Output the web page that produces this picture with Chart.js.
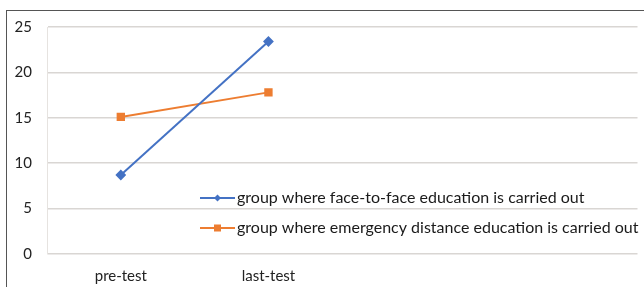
<!DOCTYPE html>
<html><head><meta charset="utf-8">
<script src="https://cdn.jsdelivr.net/npm/chart.js@4/dist/chart.umd.min.js"></script>
<style>html,body{margin:0;padding:0;background:#fff}#wrap{width:644px;height:287px;position:relative}</style>
</head><body><div id="wrap"><canvas id="c"></canvas></div>
<script>
const categories = ["pre-test", "last-test", "", ""];
const faceToFace = [8.7, 23.4, null, null];
const emergency = [15.1, 17.8, null, null];
const yTicks = [0, 5, 10, 15, 20, 25];
const seriesNames = ["group where face-to-face education is carried out", "group where emergency distance education is carried out"];
const colors = ["#4472C4", "#ED7D31"];
const FONT = "Lato, 'Open Sans', sans-serif";

const frame = {
  id: 'frame',
  beforeDraw(chart) {
    const ctx = chart.ctx;
    ctx.save();
    ctx.fillStyle = '#fff';
    ctx.fillRect(0, 0, chart.width, chart.height);
    ctx.strokeStyle = '#555';
    ctx.lineWidth = 1;
    ctx.strokeRect(6.5, 10.5, chart.width + 20, chart.height + 20);
    ctx.restore();
  },
  afterDraw(chart) {
    const ctx = chart.ctx;
    const a = chart.chartArea;
    ctx.save();
    const rows = [a.top + 171, a.top + 201];
    chart.data.datasets.forEach((ds, i) => {
      const y = rows[i];
      const x0 = a.left + 153, x1 = a.left + 188;
      ctx.strokeStyle = ds.borderColor;
      ctx.lineWidth = 2;
      ctx.beginPath(); ctx.moveTo(x0, y); ctx.lineTo(x1, y); ctx.stroke();
      ctx.fillStyle = ds.borderColor;
      const cx = (x0 + x1) / 2;
      if (ds.pointStyle === 'rectRot') {
        ctx.beginPath(); ctx.moveTo(cx, y - 3.5); ctx.lineTo(cx + 3.5, y); ctx.lineTo(cx, y + 3.5); ctx.lineTo(cx - 3.5, y); ctx.closePath(); ctx.fill();
      } else {
        ctx.fillRect(cx - 3.5, y - 3.5, 7, 7);
      }
      ctx.fillStyle = '#1a1a1a';
      ctx.font = "16px " + FONT;
      ctx.textBaseline = 'middle';
      ctx.textAlign = 'left';
      ctx.fillText(ds.label, x1 + 2, y);
    });
    ctx.restore();
  }
};

new Chart(document.getElementById('c'), {
  type: 'line',
  data: {
    labels: categories,
    datasets: [
      { label: seriesNames[0], data: faceToFace, borderColor: colors[0], backgroundColor: colors[0], borderWidth: 2, pointStyle: 'rectRot', pointRadius: 4, pointHoverRadius: 4 },
      { label: seriesNames[1], data: emergency, borderColor: colors[1], backgroundColor: colors[1], borderWidth: 2, pointStyle: 'rect', pointRadius: 4.5, pointHoverRadius: 4.5 }
    ]
  },
  options: {
    responsive: true,
    maintainAspectRatio: false,
    animation: false,
    layout: { padding: { top: 27, right: 4, left: 0, bottom: 0 } },
    plugins: { legend: { display: false }, tooltip: { enabled: false } },
    scales: {
      x: {
        offset: true,
        grid: { display: false, drawTicks: false },
        border: { display: false },
        ticks: { color: '#222', font: { family: FONT, size: 15 }, padding: 13, maxRotation: 0 },
        afterFit(s) { s.height = 33; }
      },
      y: {
        min: 0, max: 25,
        afterBuildTicks(s) { s.ticks = yTicks.map(v => ({ value: v })); },
        grid: { color: '#d9d6d3', lineWidth: 1.5, drawTicks: false },
        border: { display: true, color: '#e6e3e0', width: 1 },
        ticks: { color: '#222', font: { family: FONT, size: 15 }, padding: 15 },
        afterFit(s) { s.width = 47; }
      }
    }
  },
  plugins: [frame]
});
</script></body></html>
